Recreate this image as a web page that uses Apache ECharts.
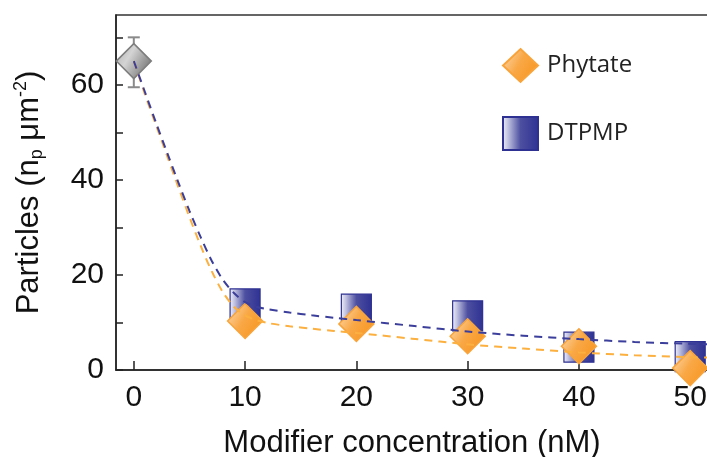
<!DOCTYPE html>
<html>
<head>
<meta charset="utf-8">
<script src="https://cdn.jsdelivr.net/npm/echarts@6/dist/echarts.min.js"></script>
<style>
  html, body { margin: 0; padding: 0; background: #fff; }
  #chart { width: 707px; height: 457px; }
</style>
</head>
<body>
<div id="chart"></div>
<script>
var concentrations = [10, 20, 30, 40, 50]
var phytate = [10.3, 9.7, 7.1, 5.0, 0.4]
var dtpmp = [13.9, 12.8, 11.4, 4.8, 2.8]
var startPoint = [0, 65]
var startError = [0, 59.5, 70]

// fitted curves
var phytateFit = [[0,65],[1,58],[2,51.5],[3,45],[4,38.5],[5,32.2],[6,26.2],[7,20.8],[8,16.4],[9,13.3],[10,11.5],[11,10.5],[12,9.9],[14,9.2],[16,8.7],[18,8.2],[20,7.8],[25,6.6],[30,5.4],[35,4.5],[40,3.7],[45,3.1],[50,2.7],[51.6,2.6]]
var dtpmpFit = [[0,65],[1,58.5],[2,52],[3,45.7],[4,39.5],[5,33.5],[6,28],[7,23],[8,19],[9,16.2],[10,14.3],[11,13.3],[12,12.8],[14,12.1],[16,11.5],[18,11],[20,10.5],[25,9.3],[30,8.1],[35,7.2],[40,6.5],[45,5.9],[50,5.5],[51.6,5.4]]

var xTicks = [0, 10, 20, 30, 40, 50]
var yTicks = [0, 10, 20, 30, 40, 50, 60, 70]
var yLabels = [0, 20, 40, 60]

function pairs(xs, ys) {
  var out = []
  for (var i = 0; i < xs.length; i++) out.push([xs[i], ys[i]])
  return out
}

var font = 'Liberation Sans, Arial, sans-serif'

var orangeFill = new echarts.graphic.LinearGradient(0, 0.2, 1, 0.8, [
  {offset: 0, color: '#fcd6a8'},
  {offset: 0.45, color: '#f9a846'},
  {offset: 1, color: '#f7941d'}
])
var navyFill = new echarts.graphic.LinearGradient(0, 0, 1, 0, [
  {offset: 0, color: '#f2f2fa'},
  {offset: 0.15, color: '#c4c5e3'},
  {offset: 0.5, color: '#4d4fa0'},
  {offset: 1, color: '#2e3192'}
])
var greyFill = new echarts.graphic.LinearGradient(0, 0.2, 1, 0.8, [
  {offset: 0, color: '#b5b5b5'},
  {offset: 0.35, color: '#d4d4d4'},
  {offset: 1, color: '#6a6a6a'}
])

var option = {
  animation: false,
  backgroundColor: '#fff',
  grid: {
    left: 116, top: 15, width: 592, height: 355,
    outerBoundsMode: 'none',
    containLabel: false,
    show: true, borderColor: '#333', borderWidth: 1.5
  },
  legend: {
    data: ['Phytate', 'DTPMP'],
    orient: 'vertical',
    left: 497, top: 43,
    itemWidth: 35, itemHeight: 33,
    itemGap: 33,
    textStyle: {fontFamily: 'Open Sans, sans-serif', fontSize: 24, color: '#222', padding: [0, 0, 0, 4]}
  },
  xAxis: {
    type: 'value',
    min: -1.6, max: 51.6,
    name: 'Modifier concentration (nM)',
    nameLocation: 'middle',
    nameGap: 58,
    nameTextStyle: {fontFamily: font, fontSize: 31, color: '#111'},
    axisLine: {onZero: false, lineStyle: {color: '#222', width: 1.5}},
    axisTick: {inside: true, length: 9, customValues: xTicks, lineStyle: {color: '#222', width: 1.5}},
    axisLabel: {customValues: xTicks, margin: 13, fontFamily: font, fontSize: 30, color: '#111'},
    splitLine: {show: false}
  },
  yAxis: {
    type: 'value',
    min: 0, max: 74.7,
    name: '{n|Particles (n}{sub|p}{n| μm}{sup|-2}{n|)}',
    nameLocation: 'middle',
    nameGap: 70,
    nameRotate: 90,
    nameTextStyle: {
      fontFamily: font, fontSize: 31, color: '#111',
      rich: {
        n: {fontFamily: font, fontSize: 31, color: '#111', lineHeight: 34},
        sub: {fontFamily: font, fontSize: 18, color: '#111', verticalAlign: 'bottom', lineHeight: 10},
        sup: {fontFamily: font, fontSize: 18, color: '#111', verticalAlign: 'top', lineHeight: 12}
      }
    },
    axisLine: {show: true, onZero: false, lineStyle: {color: '#222', width: 1.5}},
    axisTick: {show: true, inside: true, length: 7, customValues: yTicks, lineStyle: {color: '#222', width: 1.5}},
    axisLabel: {customValues: yLabels, margin: 12, fontFamily: font, fontSize: 30, color: '#111'},
    splitLine: {show: false}
  },
  series: [
    {
      name: 'DTPMP',
      type: 'scatter',
      symbol: 'rect',
      symbolSize: 30,
      z: 2,
      itemStyle: {color: navyFill, borderColor: '#2e3192', borderWidth: 1.2, opacity: 1},
      data: pairs(concentrations, dtpmp)
    },
    {
      name: 'Phytate',
      type: 'scatter',
      symbol: 'diamond',
      symbolSize: 35,
      z: 3,
      itemStyle: {color: orangeFill, borderColor: '#f9a43a', borderWidth: 1.5, opacity: 1},
      data: pairs(concentrations, phytate)
    },
    {
      name: 'error',
      type: 'custom',
      z: 3,
      renderItem: function (params, api) {
        var x = api.value(0)
        var lo = api.coord([x, api.value(1)])
        var hi = api.coord([x, api.value(2)])
        var cap = 6
        var st = {stroke: '#8a8a8a', lineWidth: 2}
        return {
          type: 'group',
          children: [
            {type: 'line', shape: {x1: lo[0], y1: lo[1], x2: hi[0], y2: hi[1]}, style: st},
            {type: 'line', shape: {x1: lo[0] - cap, y1: lo[1], x2: lo[0] + cap, y2: lo[1]}, style: st},
            {type: 'line', shape: {x1: hi[0] - cap, y1: hi[1], x2: hi[0] + cap, y2: hi[1]}, style: st}
          ]
        }
      },
      data: [startError]
    },
    {
      name: 'start',
      type: 'scatter',
      symbol: 'diamond',
      symbolSize: 35,
      z: 4,
      itemStyle: {color: greyFill, borderColor: '#7d7d7d', borderWidth: 1.5, opacity: 1},
      data: [startPoint]
    },
    {
      name: 'Phytate fit',
      type: 'line',
      smooth: 0.3,
      showSymbol: false,
      z: 5,
      lineStyle: {color: '#fbb040', width: 2, type: [8, 6]},
      data: phytateFit
    },
    {
      name: 'DTPMP fit',
      type: 'line',
      smooth: 0.3,
      showSymbol: false,
      z: 6,
      lineStyle: {color: '#3b3e9a', width: 2, type: [8, 6]},
      data: dtpmpFit
    }
  ]
}

var chart = echarts.init(document.getElementById('chart'))
chart.setOption(option)
</script>
</body>
</html>
